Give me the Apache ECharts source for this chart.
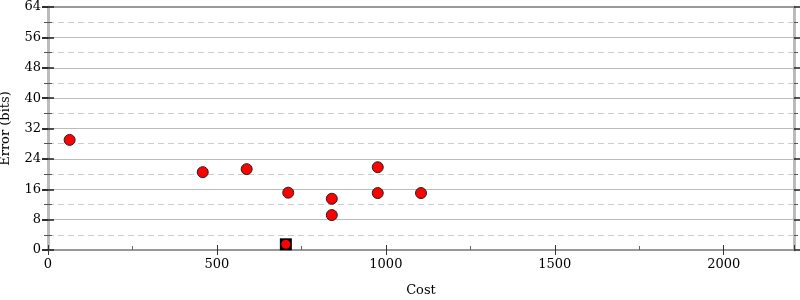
<!DOCTYPE html>
<html>
<head>
<meta charset="utf-8">
<script src="https://cdn.jsdelivr.net/npm/echarts@6/dist/echarts.min.js"></script>
<style>html,body{margin:0;padding:0;background:#fff}#c{width:800px;height:300px}</style>
</head>
<body>
<div id="c"></div>
<script>
var costs = [64, 458, 588, 711, 840, 840, 976, 976, 1104];
var errors = [29.0, 20.5, 21.3, 15.1, 13.5, 9.2, 21.8, 15.0, 15.0];
var bestCost = [704];
var bestError = [1.5];
var xMax = 2208;
var yMax = 64;

var ptsData = costs.map(function (c, i) { return [c, errors[i]]; });
var bestData = bestCost.map(function (c, i) { return [c, bestError[i]]; });

var font = 'DejaVu Serif';
var chart = echarts.init(document.getElementById('c'), null, { renderer: 'canvas' });
function plain(v) { return String(v); }

function yAx(opts) {
  return Object.assign({
    type: 'value', min: 0, max: yMax, interval: 8,
    axisLabel: { show: false },
    splitLine: { show: false },
    axisLine: { show: false },
    axisTick: { show: false },
    minorTick: { show: false }
  }, opts);
}
function xAx(opts) {
  return Object.assign({
    type: 'value', min: 0, max: xMax, interval: 500,
    axisLabel: { show: false },
    splitLine: { show: false },
    axisLine: { show: false },
    axisTick: { show: false },
    minorTick: { show: false }
  }, opts);
}

chart.setOption({
  animation: false,
  grid: { left: 48, right: 6, top: 7, bottom: 50, containLabel: false, outerBoundsMode: 'none' },
  xAxis: [
    xAx({
      position: 'bottom',
      name: 'Cost', nameLocation: 'middle', nameGap: 34,
      nameTextStyle: { fontFamily: font, fontSize: 13, color: '#000' },
      axisLabel: { show: true, fontFamily: font, fontSize: 13, color: '#000', margin: 8, showMaxLabel: false, formatter: plain },
      axisLine: { show: true, onZero: false, lineStyle: { color: '#999', width: 2 } },
      axisTick: { show: true, length: 5, lineStyle: { color: '#333', width: 1 } }
    }),
    xAx({
      position: 'bottom',
      axisTick: { show: true, inside: true, length: 5, lineStyle: { color: '#333', width: 1 } },
      minorTick: { show: true, splitNumber: 2, length: 4, lineStyle: { color: '#666', width: 1 } }
    }),
    xAx({
      position: 'top',
      axisLine: { show: true, onZero: false, lineStyle: { color: '#999', width: 2 } }
    })
  ],
  yAxis: [
    yAx({
      position: 'left',
      name: 'Error (bits)', nameLocation: 'middle', nameGap: 36,
      nameTextStyle: { fontFamily: font, fontSize: 13, color: '#000' },
      axisLabel: { show: true, fontFamily: font, fontSize: 13, color: '#000', margin: 7, formatter: plain },
      axisLine: { show: true, onZero: false, lineStyle: { color: '#bbb', width: 3 } },
      axisTick: { show: true, length: 6, lineStyle: { color: '#222', width: 1.5 } },
      splitLine: { show: true, lineStyle: { color: '#bbb', width: 1 } },
      minorTick: { show: true, splitNumber: 2, length: 4, lineStyle: { color: '#555', width: 1 } },
      minorSplitLine: { show: true, lineStyle: { color: '#ccc', width: 1, type: [6, 4] } }
    }),
    yAx({
      position: 'left',
      axisTick: { show: true, inside: true, length: 6, lineStyle: { color: '#222', width: 1.5 } },
      minorTick: { show: true, splitNumber: 2, length: 4, lineStyle: { color: '#555', width: 1 } }
    }),
    yAx({
      position: 'right',
      axisLine: { show: true, onZero: false, lineStyle: { color: '#bbb', width: 3 } },
      axisTick: { show: true, length: 6, lineStyle: { color: '#222', width: 1.5 } },
      minorTick: { show: true, splitNumber: 2, length: 4, lineStyle: { color: '#555', width: 1 } }
    }),
    yAx({
      position: 'right',
      axisTick: { show: true, inside: true, length: 6, lineStyle: { color: '#222', width: 1.5 } },
      minorTick: { show: true, splitNumber: 2, length: 4, lineStyle: { color: '#555', width: 1 } }
    })
  ],
  series: [
    {
      type: 'scatter', xAxisIndex: 0, yAxisIndex: 0,
      data: bestData, symbol: 'rect', symbolSize: 12,
      itemStyle: { color: '#000', opacity: 1 }, z: 3
    },
    {
      type: 'scatter', xAxisIndex: 0, yAxisIndex: 0,
      data: bestData, symbol: 'circle', symbolSize: 9,
      itemStyle: { color: '#ff0000', opacity: 1 }, z: 4
    },
    {
      type: 'scatter', xAxisIndex: 0, yAxisIndex: 0,
      data: ptsData, symbol: 'circle', symbolSize: 11,
      itemStyle: { color: '#ff0000', borderColor: '#222', borderWidth: 1, opacity: 1 }, z: 5
    }
  ]
});
</script>
</body>
</html>
